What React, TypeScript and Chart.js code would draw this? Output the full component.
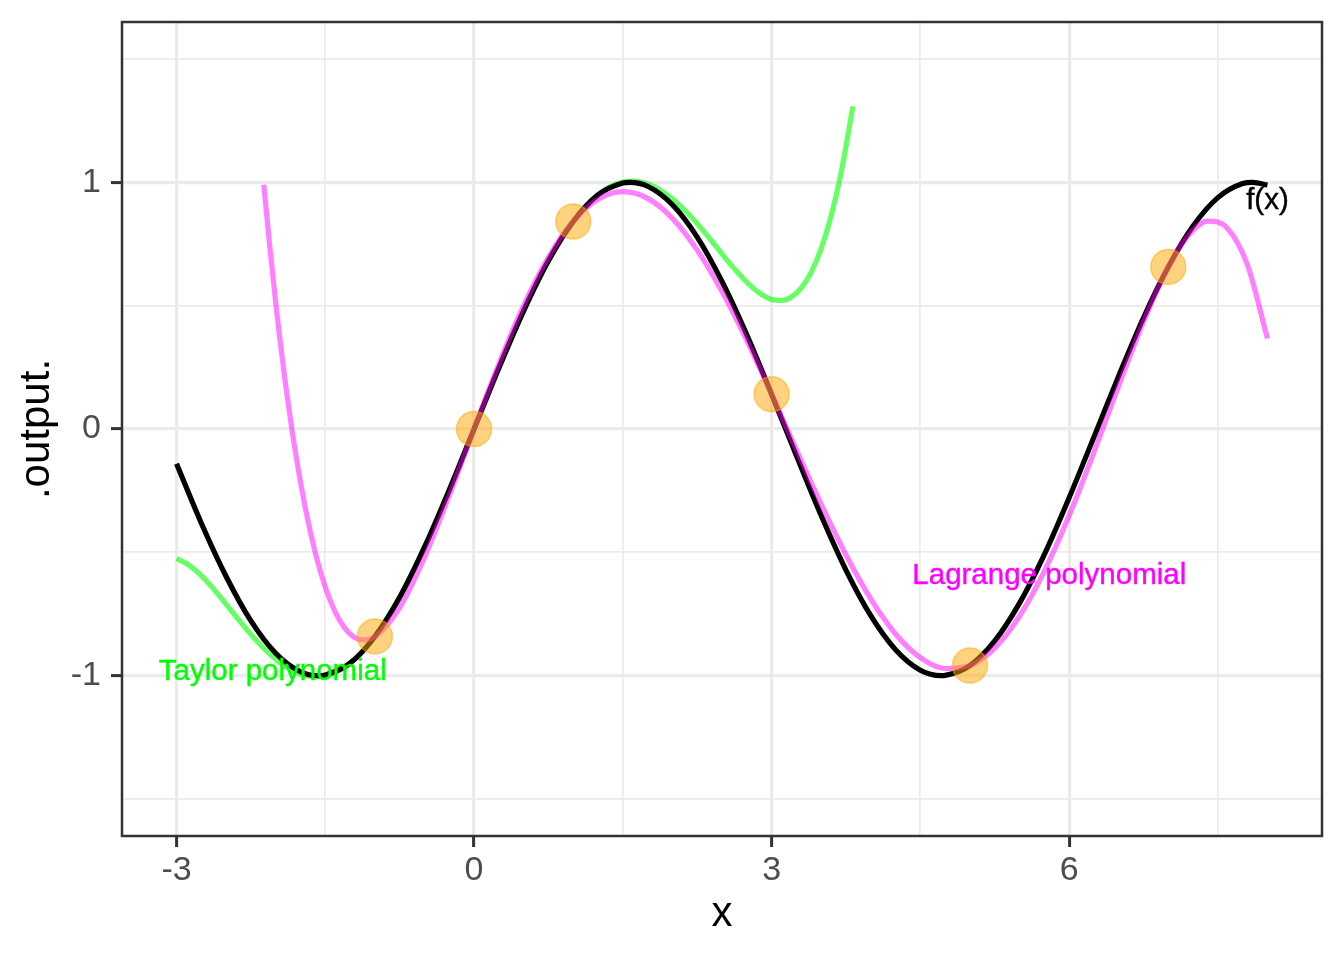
import React, { useEffect, useRef } from 'react';
import { Chart, registerables } from 'chart.js';

Chart.register(...registerables);

// f(x) (black curve)
const sinX = [-3, -2.75, -2.5, -2.25, -2, -1.75, -1.57, -1.5, -1.25, -1, -0.75, -0.5, -0.25, 0, 0.25, 0.5, 0.75, 1, 1.25, 1.5, 1.57, 1.75, 2, 2.25, 2.5, 2.75, 3, 3.25, 3.5, 3.75, 4, 4.25, 4.5, 4.71, 4.75, 5, 5.25, 5.5, 5.75, 6, 6.25, 6.5, 6.75, 7, 7.25, 7.5, 7.75, 7.85, 8];
const sinY = [-0.141, -0.382, -0.598, -0.778, -0.909, -0.984, -1.0, -0.997, -0.949, -0.841, -0.682, -0.479, -0.247, 0, 0.247, 0.479, 0.682, 0.841, 0.949, 0.997, 1.0, 0.984, 0.909, 0.778, 0.598, 0.382, 0.141, -0.108, -0.351, -0.572, -0.757, -0.895, -0.978, -1.0, -0.999, -0.959, -0.859, -0.706, -0.509, -0.279, -0.033, 0.215, 0.451, 0.657, 0.823, 0.938, 0.995, 1.0, 0.989];

// Taylor polynomial (green curve)
const taylorX = [-3, -2.9, -2.8, -2.7, -2.6, -2.4, -2.2, -2, -1.8, -1.6, -1.4, -1.2, -1, -0.8, -0.6, -0.4, -0.2, 0, 0.2, 0.4, 0.6, 0.8, 1, 1.2, 1.4, 1.6, 1.8, 2, 2.2, 2.4, 2.6, 2.8, 2.9, 3, 3.1, 3.2, 3.3, 3.4, 3.5, 3.6, 3.7, 3.82];
const taylorY = [-0.525, -0.545, -0.576, -0.615, -0.661, -0.76, -0.855, -0.933, -0.986, -1.005, -0.988, -0.933, -0.842, -0.717, -0.565, -0.389, -0.199, 0, 0.199, 0.389, 0.565, 0.717, 0.842, 0.933, 0.988, 1.005, 0.986, 0.933, 0.855, 0.76, 0.661, 0.576, 0.545, 0.525, 0.521, 0.535, 0.572, 0.636, 0.731, 0.863, 1.037, 1.308];

// Lagrange polynomial (magenta curve)
const lagX = [-2.12, -2.06, -2, -1.9, -1.8, -1.7, -1.6, -1.5, -1.4, -1.3, -1.2, -1.1, -1, -0.75, -0.5, -0.25, 0, 0.25, 0.5, 0.75, 1, 1.25, 1.5, 1.75, 2, 2.25, 2.5, 2.75, 3, 3.25, 3.5, 3.75, 4, 4.25, 4.5, 4.75, 5, 5.25, 5.5, 5.75, 6, 6.25, 6.5, 6.75, 7, 7.2, 7.4, 7.6, 7.8, 8];
const lagY = [0.99, 0.74, 0.512, 0.18, -0.097, -0.323, -0.503, -0.641, -0.742, -0.809, -0.846, -0.855, -0.842, -0.724, -0.521, -0.269, 0, 0.263, 0.5, 0.696, 0.842, 0.931, 0.962, 0.935, 0.854, 0.725, 0.557, 0.359, 0.141, -0.084, -0.305, -0.51, -0.689, -0.831, -0.927, -0.971, -0.959, -0.888, -0.759, -0.577, -0.352, -0.095, 0.175, 0.435, 0.657, 0.784, 0.843, 0.812, 0.663, 0.367];

// interpolation nodes (orange points)
const nodeX = [-1, 0, 1, 3, 5, 7];
const nodeY = [-0.841, 0, 0.841, 0.141, -0.959, 0.657];

// axis ticks
const xMajorTicks = [-3, 0, 3, 6];
const xMinorTicks = [-1.5, 1.5, 4.5, 7.5];
const yMajorTicks = [-1, 0, 1];
const yMinorTicks = [-1.5, -0.5, 0.5, 1.5];

// in-plot text labels
const labelText = ['f(x)', 'Lagrange polynomial', 'Taylor polynomial'];
const labelX = [8, 5.8, -2.03];
const labelY = [0.935, -0.585, -0.975];

const FONT = '"Liberation Sans", Arial, Helvetica, sans-serif';
const labelColors = ['#000000', '#FF00FF', '#00FF00'];

const isIn = (arr: number[], v: number) => arr.some((a) => Math.abs(a - v) < 1e-9);

export default function App() {
  const ref = useRef<HTMLCanvasElement>(null);

  useEffect(() => {
    document.body.style.margin = '0';
    const canvas = ref.current;
    if (!canvas) return;
    const pts = (xs: number[], ys: number[]) => xs.map((x, i) => ({ x, y: ys[i] }));

    const panelPlugin = {
      id: 'panelPlugin',
      beforeDraw(chart: any) {
        const { ctx, width, height } = chart;
        ctx.save();
        ctx.fillStyle = '#FFFFFF';
        ctx.fillRect(0, 0, width, height);
        ctx.restore();
      },
      afterDatasetsDraw(chart: any) {
        const { ctx, chartArea: a, scales } = chart;
        const xs = scales.x;
        const ys = scales.y;
        ctx.save();
        const size = 29.5;
        ctx.font = `${size}px ${FONT}`;
        ctx.textAlign = 'center';
        ctx.textBaseline = 'alphabetic';
        labelText.forEach((t, i) => {
          ctx.fillStyle = labelColors[i];
          ctx.strokeStyle = labelColors[i];
          ctx.lineWidth = 0.4;
          const px = xs.getPixelForValue(labelX[i]);
          const py = ys.getPixelForValue(labelY[i]) + (0.716 * size) / 2;
          ctx.fillText(t, px, py);
          ctx.strokeText(t, px, py);
        });
        ctx.strokeStyle = '#333333';
        ctx.lineWidth = 2.5;
        ctx.strokeRect(a.left, a.top, a.right - a.left, a.bottom - a.top);
        ctx.restore();
      },
    };

    const lineBase = {
      pointRadius: 0,
      pointHoverRadius: 0,
      fill: false,
      borderWidth: 5.2,
      cubicInterpolationMode: 'monotone' as const,
      borderJoinStyle: 'round' as const,
    };

    const chart = new Chart(canvas, {
      type: 'line',
      data: {
        datasets: [
          {
            label: 'nodes',
            data: pts(nodeX, nodeY),
            showLine: false,
            pointRadius: 17.5,
            pointHoverRadius: 17.5,
            pointBackgroundColor: 'rgba(255,165,0,0.5)',
            pointBorderColor: 'rgba(255,165,0,0.5)',
            pointBorderWidth: 1.5,
            borderColor: 'rgba(255,165,0,0.5)',
          },
          { ...lineBase, label: 'Lagrange polynomial', data: pts(lagX, lagY), borderColor: 'rgba(255,0,255,0.5)' },
          { ...lineBase, label: 'f(x)', data: pts(sinX, sinY), borderColor: '#000000' },
          { ...lineBase, label: 'Taylor polynomial', data: pts(taylorX, taylorY), borderColor: 'rgba(0,255,0,0.6)' },
        ],
      },
      options: {
        responsive: false,
        animation: false,
        devicePixelRatio: 1,
        events: [],
        layout: { padding: { left: 0, top: 22, right: 22, bottom: 0 } },
        plugins: {
          legend: { display: false },
          tooltip: { enabled: false },
          title: { display: false },
        },
        scales: {
          x: {
            type: 'linear',
            min: -3.55,
            max: 8.55,
            afterBuildTicks: (s: any) => {
              s.ticks = [...xMajorTicks, ...xMinorTicks].sort((a, b) => a - b).map((v) => ({ value: v }));
            },
            afterFit: (s: any) => {
              s.height = 124;
              s.paddingLeft = 0;
              s.paddingRight = 0;
            },
            ticks: {
              autoSkip: false,
              maxRotation: 0,
              minRotation: 0,
              padding: 3,
              color: '#4D4D4D',
              font: { family: FONT, size: 34 },
              callback: (v: any) => (isIn(xMajorTicks, Number(v)) ? String(v) : ''),
            },
            grid: {
              color: '#EBEBEB',
              lineWidth: (c: any) => (isIn(xMajorTicks, c.tick?.value) ? 3.2 : 1.7),
              tickColor: (c: any) => (isIn(xMajorTicks, c.tick?.value) ? '#333333' : 'rgba(0,0,0,0)'),
              tickWidth: 3,
              tickLength: 11,
              drawTicks: true,
            },
            border: { display: false },
            title: {
              display: true,
              text: 'x',
              color: '#000000',
              font: { family: FONT, size: 42 },
              padding: { top: 0, bottom: 20 },
            },
          },
          y: {
            type: 'linear',
            min: -1.65,
            max: 1.65,
            afterBuildTicks: (s: any) => {
              s.ticks = [...yMajorTicks, ...yMinorTicks].sort((a, b) => a - b).map((v) => ({ value: v }));
            },
            afterFit: (s: any) => {
              s.width = 122;
              s.paddingTop = 0;
              s.paddingBottom = 0;
            },
            ticks: {
              autoSkip: false,
              padding: 10,
              color: '#4D4D4D',
              font: { family: FONT, size: 34 },
              callback: (v: any) => (isIn(yMajorTicks, Number(v)) ? String(v) : ''),
            },
            grid: {
              color: '#EBEBEB',
              lineWidth: (c: any) => (isIn(yMajorTicks, c.tick?.value) ? 3.2 : 1.7),
              tickColor: (c: any) => (isIn(yMajorTicks, c.tick?.value) ? '#333333' : 'rgba(0,0,0,0)'),
              tickWidth: 3,
              tickLength: 11,
              drawTicks: true,
            },
            border: { display: false },
            title: {
              display: true,
              text: '.output.',
              color: '#000000',
              font: { family: FONT, size: 42 },
              padding: { top: 12, bottom: 0 },
            },
          },
        },
      },
      plugins: [panelPlugin],
    } as any);

    return () => {
      chart.destroy();
    };
  }, []);

  return (
    <div style={{ position: 'absolute', left: 0, top: 0, width: 1344, height: 960, background: '#FFFFFF' }}>
      <canvas ref={ref} width={1344} height={960} style={{ display: 'block' }} />
    </div>
  );
}
